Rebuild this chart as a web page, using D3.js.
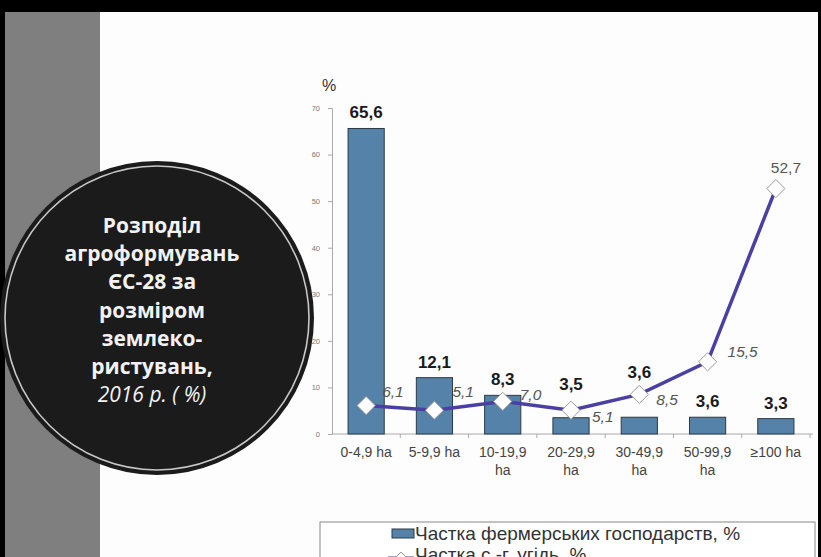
<!DOCTYPE html>
<html>
<head>
<meta charset="utf-8">
<script src="https://cdn.jsdelivr.net/npm/d3@7"></script>
<style>
  body { margin: 0; background: #000; }
  svg { display: block; }
</style>
</head>
<body>
<svg id="chart" width="821" height="557"></svg>
<script>
// Donnees
var categories = ["0-4,9 ha", "5-9,9 ha", "10-19,9 ha", "20-29,9 ha", "30-49,9 ha", "50-99,9 ha", "\u2265100 ha"];
var fermes = [65.6, 12.1, 8.3, 3.5, 3.6, 3.6, 3.3];
var terres = [6.1, 5.1, 7.0, 5.1, 8.5, 15.5, 52.7];
var yTicks = [0, 10, 20, 30, 40, 50, 60, 70];
var titre = ["Розподіл", "агроформувань", "ЄС-28 за", "розміром", "землеко-", "ристувань,"];
var titreFin = "2016 р. ( %)";
var legende = ["Частка фермерських господарств, %", "Частка с.-г. угідь, %"];

var svg = d3.select("#chart");

// Fond
svg.append("rect").attr("x", 0).attr("y", 0).attr("width", 821).attr("height", 557).attr("fill", "#000");
svg.append("rect").attr("x", 5).attr("y", 12).attr("width", 813).attr("height", 545).attr("fill", "#fdfdfd");
svg.append("rect").attr("x", 5).attr("y", 12).attr("width", 95).attr("height", 545).attr("fill", "#7f7f7f");

// Cercle titre
var cx = 157, cy = 318;
svg.append("circle").attr("cx", cx).attr("cy", cy).attr("r", 157).attr("fill", "#1b1b1b");
svg.append("circle").attr("cx", cx).attr("cy", cy).attr("r", 152).attr("fill", "none")
  .attr("stroke", "#c8c8c8").attr("stroke-width", 1.6);

var tx0 = 152;
var t = svg.append("text").attr("text-anchor", "middle").attr("fill", "#f2f2f2")
  .style("font-family", "'Open Sans', sans-serif").style("font-size", "21px").style("font-weight", "bold");
titre.forEach(function (l, i) {
  t.append("tspan").attr("x", tx0).attr("y", 233 + i * 28.2).text(l);
});
t.append("tspan").attr("x", tx0).attr("y", 233 + 6 * 28.2).style("font-weight", "normal")
  .style("font-style", "italic").text(titreFin);

// Echelles
var x = d3.scaleBand().domain(categories).range([332, 810]).paddingInner(0.47).paddingOuter(0.235);
var xb = d3.scaleBand().domain(categories).range([332, 810]);
var y = d3.scaleLinear().domain([0, 70]).range([434, 108]);

// Axes
var gy = svg.append("g").attr("transform", "translate(332,0)")
  .call(d3.axisLeft(y).tickValues(yTicks).tickSize(4).tickPadding(8));
gy.select(".domain").attr("stroke", "#aaa");
gy.selectAll(".tick line").attr("stroke", "#aaa");
gy.selectAll(".tick text").attr("fill", "#777").style("font-family", "'Liberation Sans', Arial").style("font-size", "7.5px");

var gx = svg.append("g").attr("transform", "translate(0,434)")
  .call(d3.axisBottom(xb).tickSize(0).tickPadding(0).tickFormat(""));
gx.select(".domain").attr("stroke", "#aaa").attr("d", "M332,0H813");
gx.selectAll(".bord").data(categories.slice(1).concat(["fin"])).enter().append("line")
  .attr("class", "bord")
  .attr("x1", function (d, i) { return 332 + xb.step() * (i + 1); })
  .attr("x2", function (d, i) { return 332 + xb.step() * (i + 1); })
  .attr("y1", 0).attr("y2", 4).attr("stroke", "#aaa");

var etiq = svg.append("g").style("font-family", "'Liberation Sans', Arial").style("font-size", "14px").attr("fill", "#444");
categories.forEach(function (c) {
  var parts = c.split(" ");
  var lignes = parts[0].length > 5 ? [parts[0], parts[1]] : [c];
  var tx = etiq.append("text").attr("text-anchor", "middle");
  lignes.forEach(function (l, k) {
    tx.append("tspan").attr("x", x(c) + x.bandwidth() / 2).attr("y", 457 + k * 18).text(l);
  });
});

// Barres
svg.append("g").selectAll("rect").data(fermes).enter().append("rect")
  .attr("x", function (d, i) { return x(categories[i]); })
  .attr("y", function (d) { return y(d); })
  .attr("width", x.bandwidth())
  .attr("height", function (d) { return y(0) - y(d); })
  .attr("fill", "#5582a8").attr("stroke", "#2d3a45").attr("stroke-width", 1);

// Decalage vertical des etiquettes de barres (evite la ligne)
var decalBarres = [10, 10, 10, 28, 39, 10, 10];
svg.append("g").selectAll("text").data(fermes).enter().append("text")
  .attr("x", function (d, i) { return x(categories[i]) + x.bandwidth() / 2; })
  .attr("y", function (d, i) { return y(d) - decalBarres[i]; })
  .attr("text-anchor", "middle").attr("fill", "#1a1a1a")
  .style("font-family", "'Liberation Sans', Arial").style("font-size", "17px").style("font-weight", "bold")
  .text(function (d) { return d3.format(".1f")(d).replace(".", ","); });

// Ligne
var ligne = d3.line()
  .x(function (d, i) { return x(categories[i]) + x.bandwidth() / 2; })
  .y(function (d) { return y(d); });
svg.append("path").datum(terres).attr("d", ligne).attr("fill", "none")
  .attr("stroke", "#4a3fa3").attr("stroke-width", 3.5);

var losange = d3.symbol().type(d3.symbolDiamond2 || d3.symbolDiamond).size(210);
svg.append("g").selectAll("path").data(terres).enter().append("path")
  .attr("d", losange)
  .attr("transform", function (d, i) { return "translate(" + (x(categories[i]) + x.bandwidth() / 2) + "," + y(d) + ")"; })
  .attr("fill", "#fff").attr("stroke", "#999").attr("stroke-width", 1);

// Etiquettes de la ligne
var decalLigne = [[16, -9], [18, -13], [17, -1], [21, 12], [17, 11], [20, -5], [-5, -16]];
svg.append("g").selectAll("text").data(terres).enter().append("text")
  .attr("x", function (d, i) { return x(categories[i]) + x.bandwidth() / 2 + decalLigne[i][0]; })
  .attr("y", function (d, i) { return y(d) + decalLigne[i][1]; })
  .attr("fill", "#555").style("font-family", "'Liberation Sans', Arial").style("font-size", "15.5px")
  .style("font-style", function (d, i) { return i === 6 ? "normal" : "italic"; })
  .text(function (d) { return d3.format(".1f")(d).replace(".", ","); });

// % titre axe
svg.append("text").attr("x", 329).attr("y", 91).attr("text-anchor", "middle").attr("fill", "#333")
  .style("font-family", "'Liberation Sans', Arial").style("font-size", "16px").text("%");

// Legende
var lg = svg.append("g");
lg.append("rect").attr("x", 320).attr("y", 522).attr("width", 495).attr("height", 60)
  .attr("fill", "#fff").attr("stroke", "#888").attr("stroke-width", 1);
lg.append("rect").attr("x", 392).attr("y", 529).attr("width", 22).attr("height", 9)
  .attr("fill", "#5582a8").attr("stroke", "#2d3a45");
lg.append("line").attr("x1", 388).attr("x2", 414).attr("y1", 558).attr("y2", 558)
  .attr("stroke", "#4a3fa3").attr("stroke-width", 3);
lg.append("path").attr("d", d3.symbol().type(d3.symbolDiamond2 || d3.symbolDiamond).size(90))
  .attr("transform", "translate(401,558)").attr("fill", "#fff").attr("stroke", "#999");
lg.selectAll("text").data(legende).enter().append("text")
  .attr("x", 415).attr("y", function (d, i) { return 540 + i * 21; })
  .attr("fill", "#333").style("font-family", "'Liberation Sans', Arial").style("font-size", "19px")
  .text(function (d) { return d; });
</script>
</body>
</html>
